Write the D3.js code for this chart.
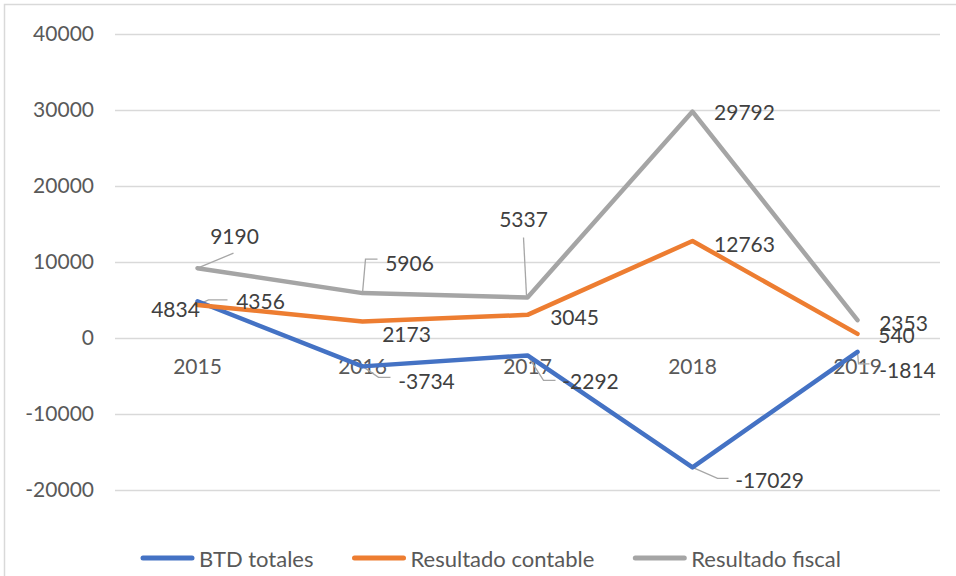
<!DOCTYPE html>
<html>
<head>
<meta charset="utf-8">
<script src="https://cdn.jsdelivr.net/npm/d3@7/dist/d3.min.js"></script>
<style>
  body { margin: 0; background: #fff; }
  svg { display: block; font-family: Lato, "Open Sans", sans-serif; }
</style>
</head>
<body>
<script>
var width = 956,
    height = 576;

// data
var years = ["2015", "2016", "2017", "2018", "2019"];
var btdTotales = [4834, -3734, -2292, -17029, -1814];
var resultadoContable = [4356, 2173, 3045, 12763, 540];
var resultadoFiscal = [9190, 5906, 5337, 29792, 2353];
var yTicks = [-20000, -10000, 0, 10000, 20000, 30000, 40000];

var seriesNames = ["BTD totales", "Resultado contable", "Resultado fiscal"];
var seriesColors = ["#4472C4", "#ED7D31", "#A5A5A5"];
var seriesValues = [btdTotales, resultadoContable, resultadoFiscal];

// where each data label sits relative to its point, plus leader line (if any)
var labelOffsets = [
    [ {dx: -22, dy: 7},
      {dx: 64, dy: 14, leader: [[0, 0], [16, 11], [28, 11]]},
      {dx: 63, dy: 25, leader: [[0, 0], [16, 25], [28, 25]]},
      {dx: 77, dy: 12, leader: [[0, 0], [25, 11], [36, 11]]},
      {dx: 50, dy: 18, leader: [[0, 0], [1, 12], [12, 12]]} ],
    [ {dx: 63, dy: -4, leader: [[0, 0], [11, -5], [30, -5]]},
      {dx: 44, dy: 12},
      {dx: 47, dy: 2},
      {dx: 52, dy: 2},
      {dx: 39, dy: 1} ],
    [ {dx: 37, dy: -33, leader: [[0, 0], [36, -15]]},
      {dx: 47, dy: -31, leader: [[0, 0], [3, -34], [15, -34]]},
      {dx: -4, dy: -79, leader: [[-1, -2], [-4, -60]]},
      {dx: 52, dy: 0},
      {dx: 46, dy: 2} ]
];

var svg = d3.select("body").append("svg")
    .attr("width", width)
    .attr("height", height);

// chart frame (runs off the right and bottom of the picture)
svg.append("rect")
    .attr("x", 4.5).attr("y", 4.5)
    .attr("width", 1000).attr("height", 640)
    .attr("fill", "none")
    .attr("stroke", "#D9D9D9")
    .attr("stroke-width", 1.5);

var x = d3.scaleBand()
    .domain(years)
    .range([115, 940]);

var y = d3.scaleLinear()
    .domain([-20000, 40000])
    .range([490, 34]);

// gridlines + y labels (plain hyphen for negatives, like Excel)
var yAxis = svg.append("g")
    .attr("transform", "translate(115,0)")
    .call(d3.axisLeft(y).tickValues(yTicks).tickSize(-825).tickPadding(21).tickFormat(function (d) { return String(d); }));
yAxis.select(".domain").remove();
yAxis.selectAll(".tick line").attr("stroke", "#D9D9D9").attr("stroke-width", 1.5);
yAxis.selectAll(".tick text")
    .attr("fill", "#595959")
    .style("font-size", "21px")
    .style("font-family", "Lato, sans-serif");

// category labels sit just under the zero line
var xAxis = svg.append("g")
    .attr("transform", "translate(0," + y(0) + ")")
    .call(d3.axisBottom(x).tickSize(0).tickPadding(21));
xAxis.select(".domain").remove();
xAxis.selectAll(".tick text")
    .attr("fill", "#595959")
    .style("font-size", "21px")
    .style("font-family", "Lato, sans-serif");

var line = d3.line()
    .x(function (d, i) { return x(years[i]) + x.bandwidth() / 2; })
    .y(function (d) { return y(d); });

// leader lines first, under the series
seriesValues.forEach(function (vals, s) {
    vals.forEach(function (v, i) {
        var o = labelOffsets[s][i];
        if (!o.leader) return;
        var px = x(years[i]) + x.bandwidth() / 2, py = y(v);
        svg.append("path")
            .attr("d", d3.line()(o.leader.map(function (p) { return [px + p[0], py + p[1]]; })))
            .attr("fill", "none")
            .attr("stroke", "#A6A6A6")
            .attr("stroke-width", 1.3);
    });
});

seriesValues.forEach(function (vals, s) {
    svg.append("path")
        .datum(vals)
        .attr("d", line)
        .attr("fill", "none")
        .attr("stroke", seriesColors[s])
        .attr("stroke-width", 4.5)
        .attr("stroke-linejoin", "round")
        .attr("stroke-linecap", "round");
});

seriesValues.forEach(function (vals, s) {
    svg.append("g").selectAll("text")
        .data(vals)
        .enter().append("text")
        .attr("x", function (d, i) { return x(years[i]) + x.bandwidth() / 2 + labelOffsets[s][i].dx; })
        .attr("y", function (d, i) { return y(d) + labelOffsets[s][i].dy; })
        .attr("text-anchor", "middle")
        .attr("dominant-baseline", "central")
        .attr("fill", "#404040")
        .style("font-size", "21px")
        .text(function (d) { return String(d); });
});

// legend
var legend = svg.append("g").attr("transform", "translate(141,558)");
var lx = 0;
seriesNames.forEach(function (name, s) {
    legend.append("line")
        .attr("x1", lx + 2).attr("x2", lx + 51)
        .attr("y1", 0).attr("y2", 0)
        .attr("stroke", seriesColors[s])
        .attr("stroke-width", 5)
        .attr("stroke-linecap", "round");
    var t = legend.append("text")
        .attr("x", lx + 58)
        .attr("y", 0)
        .attr("dominant-baseline", "central")
        .attr("fill", "#595959")
        .style("font-size", "22px")
        .text(name);
    lx += 58 + t.node().getComputedTextLength() + 39;
});
</script>
</body>
</html>
